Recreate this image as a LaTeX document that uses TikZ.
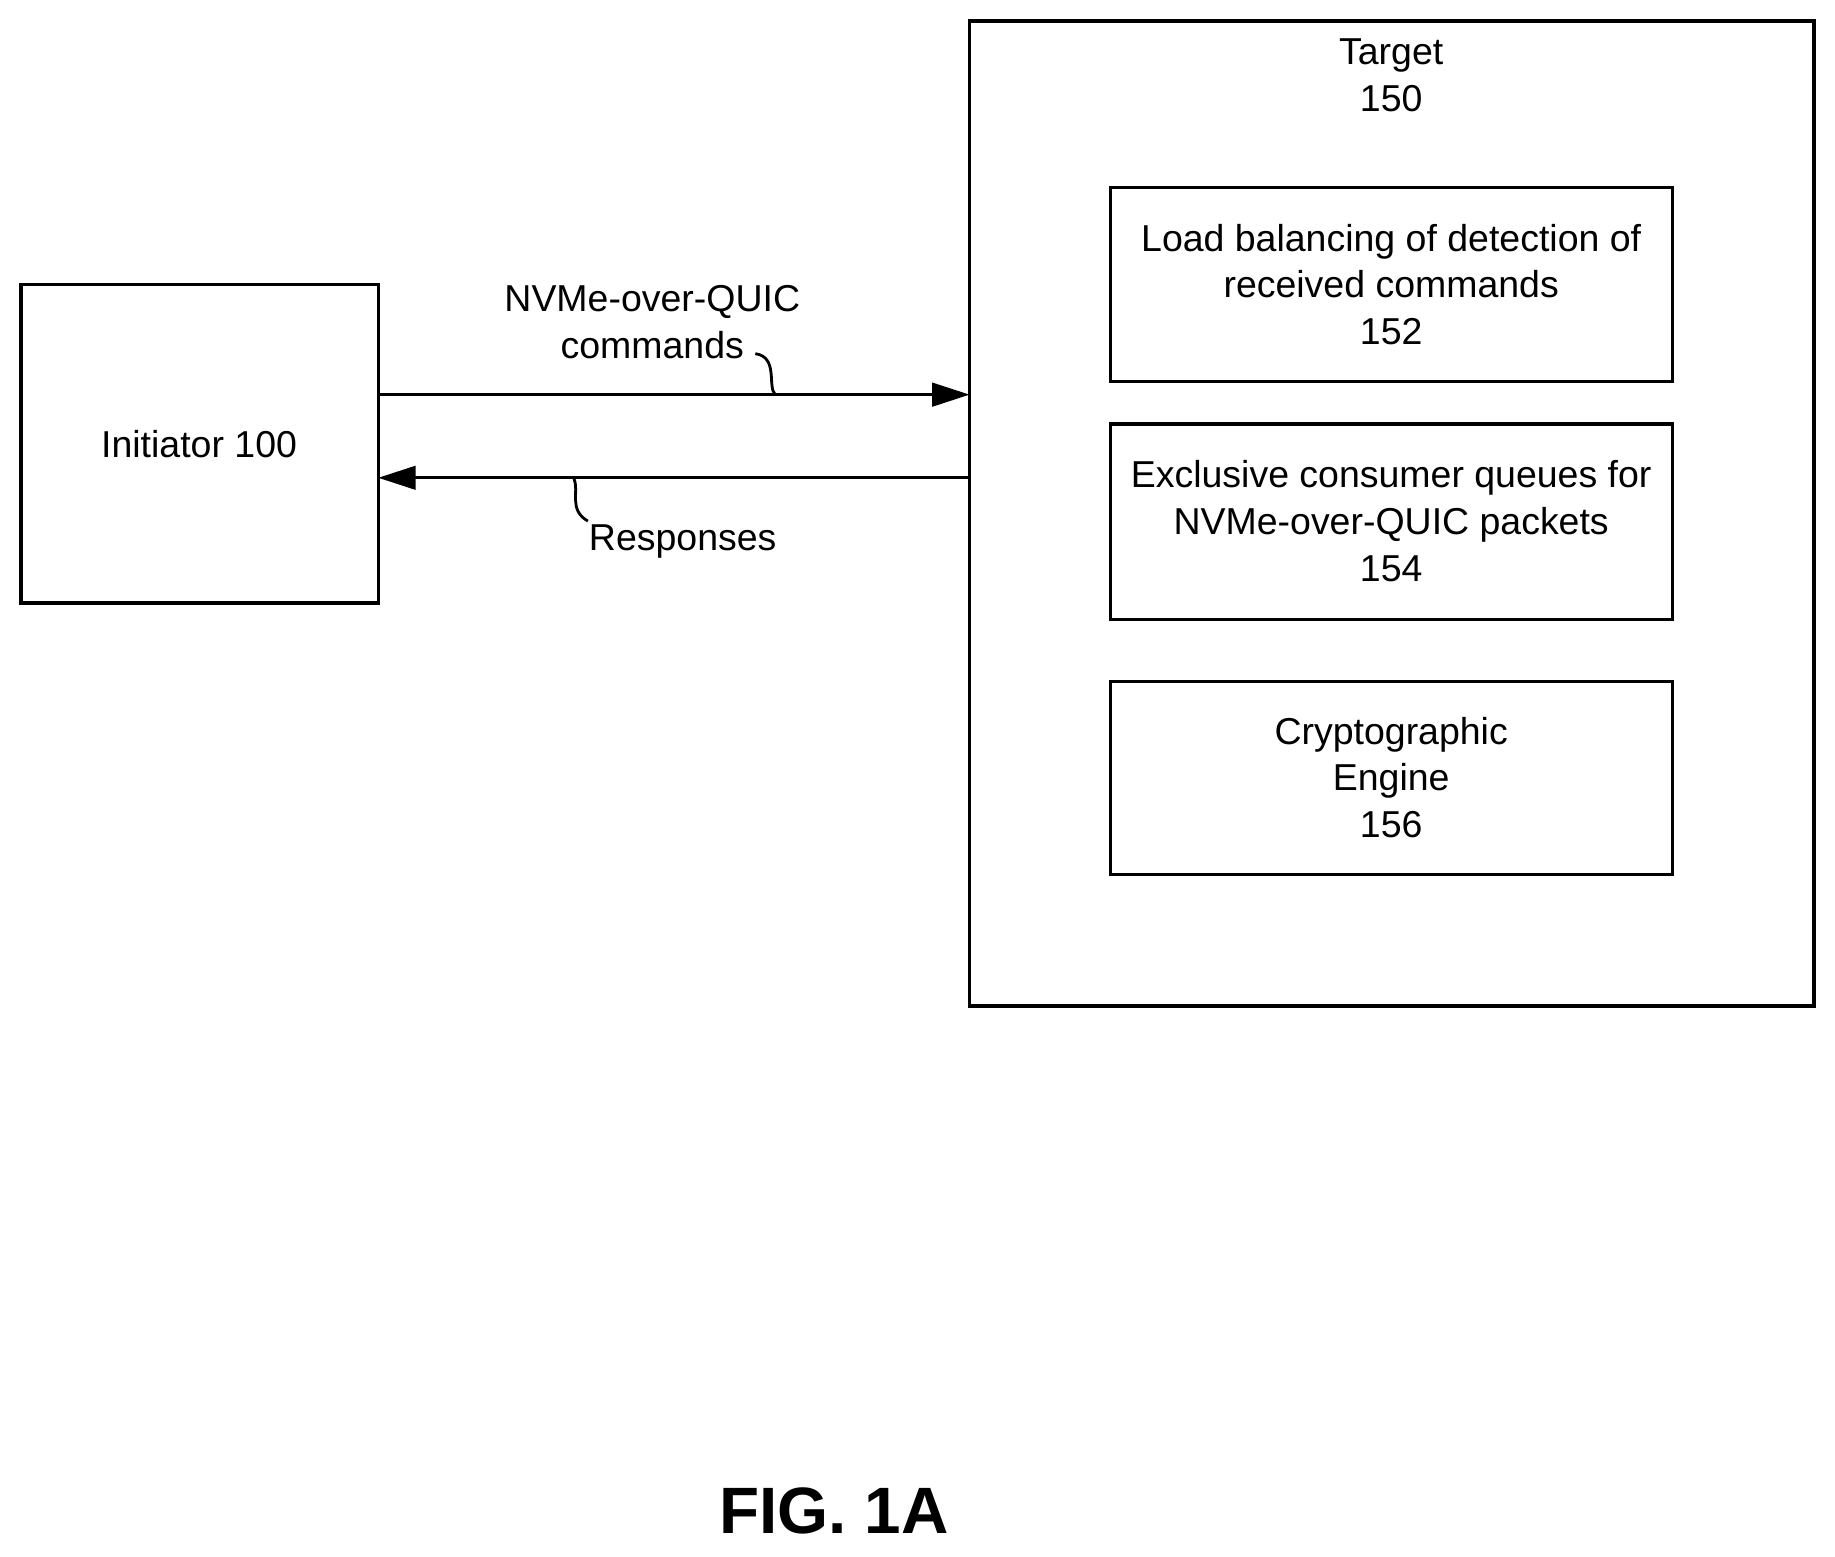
\documentclass[tikz,border=0pt]{standalone}
\usepackage{fontspec}
\setmainfont{Liberation Sans}
\usetikzlibrary{arrows.meta}
\begin{document}
\begin{tikzpicture}[x=0.5pt,y=-0.5pt,
  box/.style={draw,line width=1.4pt},
  txt/.style={align=center,font=\fontsize{16}{20}\selectfont},
  arr/.style={line width=1.4pt,-{Triangle[length=16pt,width=10pt]}},
  sq/.style={line width=1.2pt}]
\useasboundingbox (0,0) rectangle (1567,1329);
\draw[box] (18,243) rectangle (323,515);
\node[txt] (ini) at (170,379) {Initiator 100};
\draw[box] (828,18) rectangle (1549,859);
\node[txt] (tgt) at (1188,64) {Target\\150};
\draw[box] (948,160) rectangle (1428,326);
\node[txt] (b152) at (1188,243) {Load balancing of detection of\\received commands\\152};
\draw[box] (948,362) rectangle (1428,529);
\node[txt] (b154) at (1188,445) {Exclusive consumer queues for\\NVMe-over-QUIC packets\\154};
\draw[box] (948,582) rectangle (1428,747);
\node[txt] (b156) at (1188,664) {Cryptographic\\Engine\\156};
\coordinate (a1) at (323,337); \coordinate (a2) at (828,337);
\coordinate (r1) at (828,408); \coordinate (r2) at (323,408);
\draw[arr] (a1) -- (a2);
\draw[arr] (r1) -- (r2);
\node[txt] (lc) at (557,275) {NVMe-over-QUIC\\commands};
\node[txt] (lr) at (583,462) {Responses};
\draw[sq] (645,302) .. controls (665,305) and (655,330) .. (662,337);
\draw[sq] (490,408) .. controls (495,420) and (485,435) .. (502,445);
\node[font=\bfseries\fontsize{28}{32}\selectfont] (fig) at (712,1290) {FIG. 1A};
\end{tikzpicture}
\end{document}
